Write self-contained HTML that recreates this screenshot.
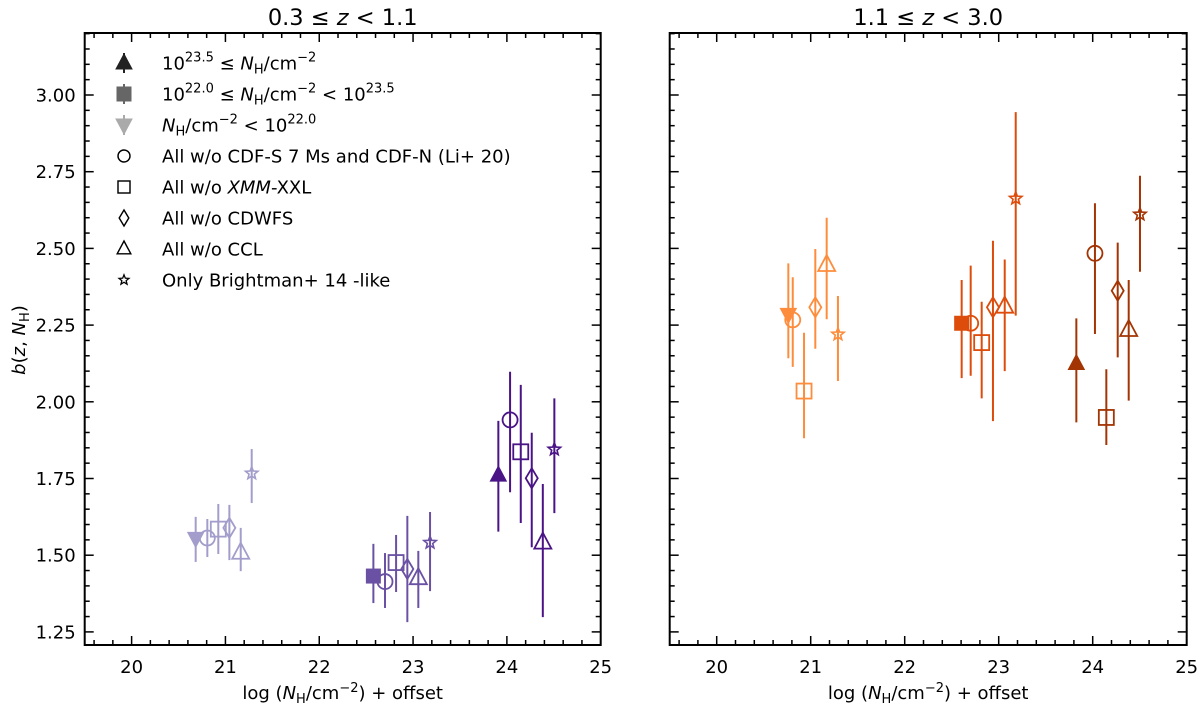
<!DOCTYPE html>
<html><head><meta charset="utf-8"><style>
body{margin:0;background:#fff;}
svg text{font-family:"DejaVu Sans","Liberation Sans",sans-serif;fill:#000;}
</style></head><body>
<svg id="chart" width="1200" height="707" xmlns="http://www.w3.org/2000/svg"></svg>
<script>
// ---- data ----
const markerKinds = ["filled","circle","square","diamond","triangle","star"];
// left panel 0.3<=z<1.1
const leftLowX  = [20.683,20.807,20.924,21.042,21.163,21.280];
const leftLowY  = [1.555,1.556,1.585,1.589,1.508,1.767];
const leftLowLo = [1.478,1.494,1.504,1.484,1.448,1.670];
const leftLowHi = [1.625,1.618,1.667,1.664,1.589,1.846];
const leftMidX  = [22.577,22.701,22.819,22.939,23.056,23.181];
const leftMidY  = [1.432,1.414,1.476,1.455,1.425,1.541];
const leftMidLo = [1.344,1.328,1.380,1.282,1.328,1.383];
const leftMidHi = [1.537,1.507,1.566,1.628,1.514,1.641];
const leftHighX  = [23.909,24.034,24.148,24.265,24.383,24.506];
const leftHighY  = [1.761,1.941,1.837,1.751,1.541,1.845];
const leftHighLo = [1.577,1.705,1.605,1.526,1.298,1.637];
const leftHighHi = [1.938,2.098,2.055,1.899,1.732,2.011];
// right panel 1.1<=z<3.0
const rightLowX  = [20.762,20.809,20.929,21.049,21.170,21.290];
const rightLowY  = [2.285,2.267,2.035,2.308,2.446,2.220];
const rightLowLo = [2.142,2.114,1.881,2.173,2.269,2.068];
const rightLowHi = [2.451,2.406,2.225,2.498,2.600,2.345];
const rightMidX  = [22.606,22.702,22.819,22.939,23.064,23.181];
const rightMidY  = [2.256,2.256,2.193,2.308,2.310,2.663];
const rightMidLo = [2.077,2.085,2.011,1.937,2.100,2.281];
const rightMidHi = [2.397,2.444,2.326,2.525,2.464,2.944];
const rightHighX  = [23.826,24.024,24.145,24.266,24.383,24.503];
const rightHighY  = [2.125,2.484,1.949,2.362,2.234,2.611];
const rightHighLo = [1.933,2.221,1.859,2.145,2.004,2.424];
const rightHighHi = [2.272,2.647,2.106,2.519,2.397,2.737];
const xTicks = [20,21,22,23,24,25];
const yTicks = [1.25,1.50,1.75,2.00,2.25,2.50,2.75,3.00];
const yTickLabels = ["1.25","1.50","1.75","2.00","2.25","2.50","2.75","3.00"];

// ---- drawing ----
const NS="http://www.w3.org/2000/svg";
const svg=document.getElementById('chart');
function mk(tag,attrs,parent){const e=document.createElementNS(NS,tag);for(const k in attrs)e.setAttribute(k,attrs[k]);(parent||svg).appendChild(e);return e;}
const TOP=33,BOT=645,XMIN=19.5,XMAX=25,YMIN=1.211,YMAX=3.2;
function yS(v){return 95+(3.0-v)*306.8;}
function makeX(left,right){return v=>left+(v-XMIN)/(XMAX-XMIN)*(right-left);}

function marker(g,kind,cx,cy,color){
  const sw=1.8;
  let e;
  if(kind==="filled-up"){e=mk('path',{d:`M${cx},${cy-9}L${cx+8},${cy+6}L${cx-8},${cy+6}Z`,fill:color,stroke:color},g);}
  else if(kind==="filled-sq"){e=mk('rect',{x:cx-7,y:cy-7,width:14,height:14,fill:color,stroke:color},g);}
  else if(kind==="filled-down"){e=mk('path',{d:`M${cx},${cy+9}L${cx+8},${cy-6}L${cx-8},${cy-6}Z`,fill:color,stroke:color},g);}
  else if(kind==="circle"){e=mk('circle',{cx:cx,cy:cy,r:7.5,fill:'none',stroke:color,'stroke-width':sw},g);}
  else if(kind==="square"){e=mk('rect',{x:cx-7.5,y:cy-7.5,width:15,height:15,fill:'none',stroke:color,'stroke-width':sw},g);}
  else if(kind==="diamond"){e=mk('path',{d:`M${cx},${cy-10}L${cx+6},${cy}L${cx},${cy+10}L${cx-6},${cy}Z`,fill:'none',stroke:color,'stroke-width':sw},g);}
  else if(kind==="triangle"){e=mk('path',{d:`M${cx},${cy-10}L${cx+8.5},${cy+6}L${cx-8.5},${cy+6}Z`,fill:'none',stroke:color,'stroke-width':sw},g);}
  else if(kind==="star"){let d="";for(let i=0;i<10;i++){const r=i%2?2.8:6.5;const a=-Math.PI/2+i*Math.PI/5;d+=(i?"L":"M")+(cx+r*Math.cos(a)).toFixed(2)+","+(cy+r*Math.sin(a)).toFixed(2);}e=mk('path',{d:d+"Z",fill:'none',stroke:color,'stroke-width':1.6},g);}
  return e;
}

function drawGroup(g,xf,X,Y,LO,HI,color,filledKind,name){
  for(let i=0;i<X.length;i++){
    const cx=xf(X[i]),cy=yS(Y[i]);
    const eb=mk('line',{x1:cx,x2:cx,y1:yS(LO[i]),y2:yS(HI[i]),stroke:color,'stroke-width':2},g);
    
    
    const kind=i===0?filledKind:markerKinds[i];
    const m=marker(g,kind,cx,cy,color);
    
    
  }
}

function drawPanel(left,right,title,showYLabels,groups,pname){
  const xf=makeX(left,right);
  const g=mk('g',{});
  
  
  for(let v=19.6;v<25.001;v+=0.2){
    const major=Math.abs(v-Math.round(v))<1e-6;
    const x=xf(v),L=major?9:5;
    mk('line',{x1:x,x2:x,y1:BOT,y2:BOT-L,stroke:'#000','stroke-width':1.5},g);
    mk('line',{x1:x,x2:x,y1:TOP,y2:TOP+L,stroke:'#000','stroke-width':1.5},g);
  }
  for(let k=0;k<=39;k++){
    const v=1.25+k*0.05; if(v>YMAX)break;
    const major=k%5===0; const y=yS(v),L=major?9:5;
    mk('line',{x1:left,x2:left+L,y1:y,y2:y,stroke:'#000','stroke-width':1.5},g);
    mk('line',{x1:right,x2:right-L,y1:y,y2:y,stroke:'#000','stroke-width':1.5},g);
  }
  xTicks.forEach(v=>{
    const t=mk('text',{x:xf(v),y:673,'text-anchor':'middle','font-size':18},g);t.textContent=String(v);
    
    
  });
  if(showYLabels){yTicks.forEach((v,i)=>{
    const t=mk('text',{x:left-9,y:yS(v)+6.5,'text-anchor':'end','font-size':18},g);t.textContent=yTickLabels[i];
    
    
  });}
  const fr=mk('rect',{x:left,y:TOP,width:right-left,height:BOT-TOP,fill:'none',stroke:'#000','stroke-width':2},g);
  
  
  const tt=mk('text',{x:(left+right)/2,y:25,'text-anchor':'middle','font-size':22.5},g);
  tt.innerHTML=title;
  
  
  const xl=mk('text',{x:(left+right)/2,y:699,'text-anchor':'middle','font-size':18},g);
  xl.innerHTML='log (<tspan font-style="italic">N</tspan><tspan font-size="13" dy="4">H</tspan><tspan dy="-4">/cm</tspan><tspan font-size="13" dy="-7">−2</tspan><tspan dy="7">) + offset</tspan>';
  
  
  groups.forEach(gr=>drawGroup(g,xf,gr[0],gr[1],gr[2],gr[3],gr[4],gr[5],gr[6]));
}

drawPanel(84.7,600.7,'0.3 ≤ <tspan font-style="italic">z</tspan> &lt; 1.1',true,[
  [leftLowX,leftLowY,leftLowLo,leftLowHi,'#a29dcb','filled-down','left-low-nh'],
  [leftMidX,leftMidY,leftMidLo,leftMidHi,'#6a51a3','filled-sq','left-mid-nh'],
  [leftHighX,leftHighY,leftHighLo,leftHighHi,'#4a1486','filled-up','left-high-nh']],'left-panel');
drawPanel(669.7,1186.7,'1.1 ≤ <tspan font-style="italic">z</tspan> &lt; 3.0',false,[
  [rightLowX,rightLowY,rightLowLo,rightLowHi,'#fd8d3c','filled-down','right-low-nh'],
  [rightMidX,rightMidY,rightMidLo,rightMidHi,'#dd4c0b','filled-sq','right-mid-nh'],
  [rightHighX,rightHighY,rightHighLo,rightHighHi,'#a33504','filled-up','right-high-nh']],'right-panel');

const yl=mk('text',{x:0,y:0,'text-anchor':'middle','font-size':18,transform:'translate(25,340) rotate(-90)'});
yl.innerHTML='<tspan font-style="italic">b</tspan>(<tspan font-style="italic">z</tspan>, <tspan font-style="italic">N</tspan><tspan font-size="13" dy="4">H</tspan><tspan dy="-4">)</tspan>';



const legend=mk('g',{});


const legKinds=["filled-up","filled-sq","filled-down","circle","square","diamond","triangle","star"];
const legColors=["#222","#666","#aaa","#000","#000","#000","#000","#000"];
const legTexts=[
 '10<tspan font-size="13" dy="-8">23.5</tspan><tspan dy="8"> ≤ </tspan><tspan font-style="italic">N</tspan><tspan font-size="13" dy="4">H</tspan><tspan dy="-4">/cm</tspan><tspan font-size="13" dy="-8">−2</tspan>',
 '10<tspan font-size="13" dy="-8">22.0</tspan><tspan dy="8"> ≤ </tspan><tspan font-style="italic">N</tspan><tspan font-size="13" dy="4">H</tspan><tspan dy="-4">/cm</tspan><tspan font-size="13" dy="-8">−2</tspan><tspan dy="8"> &lt; 10</tspan><tspan font-size="13" dy="-8">23.5</tspan>',
 '<tspan font-style="italic">N</tspan><tspan font-size="13" dy="4">H</tspan><tspan dy="-4">/cm</tspan><tspan font-size="13" dy="-8">−2</tspan><tspan dy="8"> &lt; 10</tspan><tspan font-size="13" dy="-8">22.0</tspan>',
 'All w/o CDF-S 7 Ms and CDF-N (Li+ 20)',
 'All w/o <tspan font-style="italic">XMM</tspan>-XXL',
 'All w/o CDWFS',
 'All w/o CCL',
 'Only Brightman+ 14 -like'];
const legNames=["high-nh","mid-nh","low-nh","no-cdfs-cdfn","no-xmm-xxl","no-cdwfs","no-ccl","brightman-like"];
for(let i=0;i<8;i++){
  const y=63+i*31;
  const row=mk('g',{},legend);
  
  
  if(i<3){mk('line',{x1:124,x2:124,y1:y-10,y2:y+10,stroke:legColors[i],'stroke-width':2},row);}
  const m=marker(row,legKinds[i],124,y,legColors[i]);
  if(i>=3)m.setAttribute('transform',`translate(124,${y}) scale(0.8) translate(-124,${-y})`);
  const t=mk('text',{x:162,y:y+6.5,'font-size':18},row);
  t.innerHTML=legTexts[i];
}
</script>
</body></html>
